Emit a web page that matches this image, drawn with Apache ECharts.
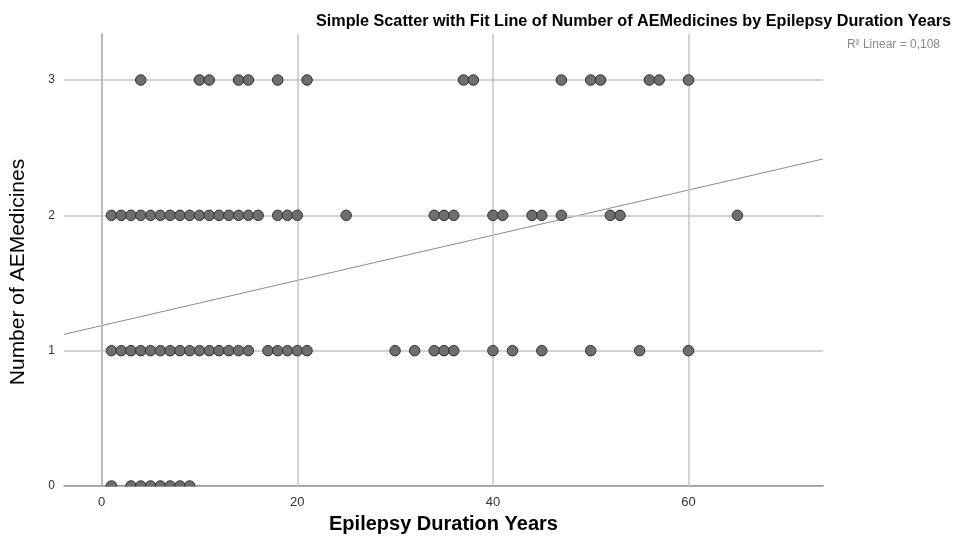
<!DOCTYPE html>
<html><head><meta charset="utf-8">
<script src="https://cdn.jsdelivr.net/npm/echarts@6/dist/echarts.min.js"></script>
<style>html,body{margin:0;padding:0;background:#fff}#c{width:954px;height:542px}</style>
</head><body><div id="c"></div>
<script>
// Epilepsy duration (years) per number of AE medicines
const dur0 = [1,3,4,5,6,7,8,9];
const dur1 = [1,2,3,4,5,6,7,8,9,10,11,12,13,14,15,17,18,19,20,21,30,32,34,35,36,40,42,45,50,55,60];
const dur2 = [1,2,3,4,5,6,7,8,9,10,11,12,13,14,15,16,18,19,20,25,34,35,36,40,41,44,45,47,52,53,65];
const dur3 = [4,10,11,14,15,18,21,37,38,47,50,51,56,57,60];
const xTicks = [0,20,40,60];
const yTicks = [0,1,2,3];
const fitIntercept = 1.185;
const fitSlope = 0.0167;
const xRange = [-3.85, 73.75];
const yRange = [0, 3.34];
const rsqText = 'R² Linear = 0,108';

const pts = [];
[[dur0,0],[dur1,1],[dur2,2],[dur3,3]].forEach(([arr,y]) => arr.forEach(x => pts.push([x,y])));
const fit = xRange.map(x => [x, fitIntercept + fitSlope * x]);

const FONT = '"Liberation Sans", Arial, sans-serif';
const chart = echarts.init(document.getElementById('c'));
chart.setOption({
  animation: false,
  title: {
    text: 'Simple Scatter with Fit Line of Number of AEMedicines by Epilepsy Duration Years',
    left: 311, top: 9,
    textStyle: { fontFamily: FONT, fontSize: 16.2, fontWeight: 'bold', color: '#000' }
  },
  graphic: [
    { type: 'text', right: 14, top: 39, style: { text: rsqText, fontFamily: FONT, fontSize: 12, fill: '#8a8a8a' } },
    { type: 'text', x: 18, y: 272, rotation: Math.PI / 2,
      style: { text: 'Number of AEMedicines', fontFamily: FONT, fontSize: 21, fill: '#000', align: 'center', verticalAlign: 'middle' } },
    { type: 'rect', shape: { x: 60, y: 486.7, width: 770, height: 7 }, style: { fill: '#fff' }, zlevel: 1, z: 100 }
  ],
  grid: { left: 64, right: 131, top: 34, bottom: 56, containLabel: false },
  xAxis: {
    type: 'value', min: xRange[0], max: xRange[1],
    name: 'Epilepsy Duration Years', nameLocation: 'middle', nameGap: 28,
    nameTextStyle: { fontFamily: FONT, fontSize: 20, fontWeight: 'bold', color: '#000' },
    axisLine: { show: true, lineStyle: { color: '#7a7a7a', width: 1.5 } },
    axisTick: { show: false },
    splitLine: { show: false },
    axisLabel: { customValues: xTicks, fontFamily: FONT, fontSize: 13, color: '#333', margin: 10 }
  },
  yAxis: {
    type: 'value', min: yRange[0], max: yRange[1],
    axisLine: { show: true, lineStyle: { color: '#7a7a7a', width: 1.5 } },
    axisTick: { show: false },
    splitLine: { show: false },
    axisLabel: { customValues: yTicks, fontFamily: FONT, fontSize: 12, color: '#333', margin: 9 }
  },
  series: [
    {
      type: 'line', data: [], silent: true, z: 0,
      markLine: {
        silent: true, symbol: 'none', label: { show: false },
        lineStyle: { color: '#c4c4c4', width: 1.5, type: 'solid' },
        data: xTicks.map(v => ({ xAxis: v })).concat(yTicks.filter(v => v > 0).map(v => ({ yAxis: v })))
      }
    },
    {
      type: 'line', data: fit, symbol: 'none', silent: true, z: 1,
      lineStyle: { color: '#8a8a8a', width: 1 }
    },
    {
      type: 'scatter', data: pts, symbol: 'circle', symbolSize: 10.5, zlevel: 1, z: 3, clip: false,
      itemStyle: { color: '#6e6e6e', borderColor: '#2e2e2e', borderWidth: 1, opacity: 1 }
    }
  ]
});
</script></body></html>
